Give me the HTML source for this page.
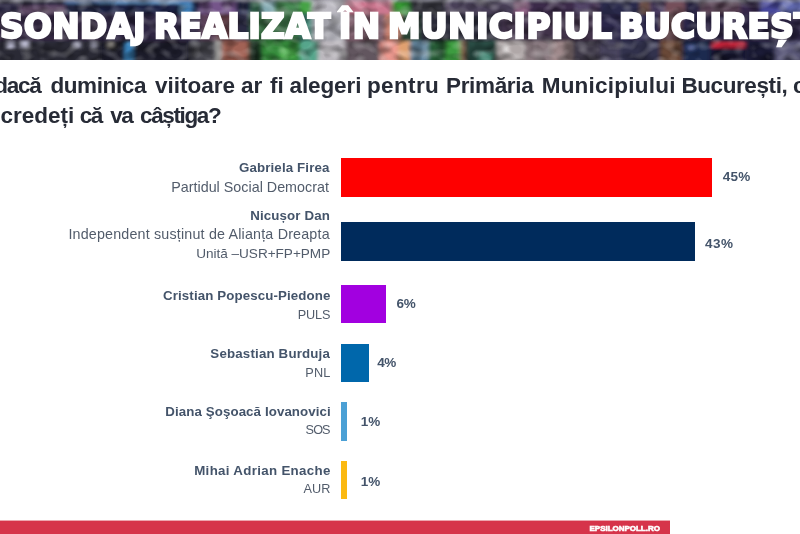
<!DOCTYPE html>
<html lang="ro">
<head>
<meta charset="utf-8">
<title>Sondaj realizat în Municipiul București</title>
<style>
html,body{margin:0;padding:0;}
body{width:800px;height:534px;overflow:hidden;background:#fff;position:relative;font-family:"Liberation Sans",sans-serif;}
#hdr{position:absolute;left:0;top:0;width:800px;height:60px;overflow:hidden;background:#2b2840;}
#hdr svg{position:absolute;left:0;top:0;}
.t{position:absolute;white-space:nowrap;margin:0;padding:0;}
.h{color:#fff;font-weight:bold;-webkit-text-stroke:2.6px #fff;}
.q{color:#272b36;font-weight:bold;}
.n{color:#44546a;font-weight:bold;}
.p{color:#525c6b;}
.v{color:#44546a;font-weight:bold;}
.f{color:#fff;font-weight:bold;-webkit-text-stroke:0.6px #fff;}
.bar{position:absolute;}
.grp{position:absolute;left:0;top:0;width:0;height:0;margin:0;padding:0;}
#foot{position:absolute;left:0;top:520px;width:670px;height:14px;background:linear-gradient(#eda6af 0,#eda6af 1px,#d6344a 1px);}
</style>
</head>
<body>
<div id="hdr">
<svg width="800" height="60" viewBox="0 0 800 60">
<defs><filter id="bl" x="-5%" y="-30%" width="110%" height="160%"><feGaussianBlur stdDeviation="2.2 1.6"/></filter></defs>
<rect x="-10" y="-10" width="820" height="80" fill="#2b2840"/>
<g filter="url(#bl)">
<rect x="-10" y="-10" width="30" height="24" fill="#2a2840"/>
<rect x="20" y="-10" width="45" height="24" fill="#5e4866"/>
<rect x="65" y="-10" width="35" height="24" fill="#232640"/>
<rect x="100" y="-10" width="80" height="24" fill="#1e2044"/>
<rect x="180" y="-10" width="12" height="24" fill="#3d7db5"/>
<rect x="192" y="-10" width="8" height="24" fill="#1e2044"/>
<rect x="200" y="-10" width="36" height="24" fill="#74548a"/>
<rect x="236" y="-10" width="14" height="24" fill="#272a48"/>
<rect x="250" y="-10" width="12" height="24" fill="#2f5a44"/>
<rect x="262" y="-10" width="13" height="24" fill="#84aab2"/>
<rect x="275" y="-10" width="25" height="24" fill="#4a8a54"/>
<rect x="300" y="-10" width="12" height="24" fill="#3fa040"/>
<rect x="312" y="-10" width="33" height="24" fill="#bcbac2"/>
<rect x="345" y="-10" width="47" height="24" fill="#cc7890"/>
<rect x="392" y="-10" width="8" height="24" fill="#3c9a34"/>
<rect x="400" y="-10" width="10" height="24" fill="#36a036"/>
<rect x="410" y="-10" width="35" height="24" fill="#34343c"/>
<rect x="445" y="-10" width="70" height="24" fill="#4a4158"/>
<rect x="515" y="-10" width="13" height="24" fill="#94688a"/>
<rect x="528" y="-10" width="47" height="24" fill="#3b2c49"/>
<rect x="575" y="-10" width="15" height="24" fill="#55466a"/>
<rect x="590" y="-10" width="10" height="24" fill="#3b2c49"/>
<rect x="600" y="-10" width="40" height="24" fill="#2b2a4c"/>
<rect x="640" y="-10" width="10" height="24" fill="#765850"/>
<rect x="650" y="-10" width="15" height="24" fill="#4a3a60"/>
<rect x="665" y="-10" width="20" height="24" fill="#74505a"/>
<rect x="685" y="-10" width="15" height="24" fill="#2a2844"/>
<rect x="700" y="-10" width="40" height="24" fill="#584052"/>
<rect x="740" y="-10" width="20" height="24" fill="#35284a"/>
<rect x="760" y="-10" width="20" height="24" fill="#46469a"/>
<rect x="780" y="-10" width="30" height="24" fill="#6068ac"/>
<rect x="-10" y="14" width="110" height="27" fill="#33263f"/>
<rect x="100" y="14" width="100" height="27" fill="#2d2642"/>
<rect x="200" y="14" width="15" height="27" fill="#5a4058"/>
<rect x="215" y="14" width="21" height="27" fill="#5a3840"/>
<rect x="236" y="14" width="14" height="27" fill="#2c2a42"/>
<rect x="250" y="14" width="50" height="27" fill="#386a42"/>
<rect x="300" y="14" width="12" height="27" fill="#4a9080"/>
<rect x="312" y="14" width="33" height="27" fill="#a2a2aa"/>
<rect x="345" y="14" width="40" height="27" fill="#7a5a68"/>
<rect x="385" y="14" width="15" height="27" fill="#c8806e"/>
<rect x="400" y="14" width="20" height="27" fill="#2f4a38"/>
<rect x="420" y="14" width="80" height="27" fill="#2a2a38"/>
<rect x="500" y="14" width="100" height="27" fill="#40304a"/>
<rect x="600" y="14" width="60" height="27" fill="#2a2848"/>
<rect x="660" y="14" width="22" height="27" fill="#5a4044"/>
<rect x="682" y="14" width="18" height="27" fill="#2a2848"/>
<rect x="700" y="14" width="110" height="27" fill="#2a2240"/>
<rect x="-10" y="41" width="110" height="30" fill="#2b2a34"/>
<rect x="100" y="41" width="90" height="30" fill="#1f1f2b"/>
<rect x="190" y="41" width="25" height="30" fill="#45454e"/>
<rect x="215" y="41" width="7" height="30" fill="#8e8e8c"/>
<rect x="222" y="41" width="26" height="30" fill="#a26254"/>
<rect x="248" y="41" width="14" height="30" fill="#1e3020"/>
<rect x="262" y="41" width="38" height="30" fill="#348a3a"/>
<rect x="300" y="41" width="18" height="30" fill="#56a68c"/>
<rect x="318" y="41" width="27" height="30" fill="#bcb8be"/>
<rect x="345" y="41" width="35" height="30" fill="#62565e"/>
<rect x="380" y="41" width="18" height="30" fill="#ee9a90"/>
<rect x="398" y="41" width="12" height="30" fill="#e0a070"/>
<rect x="410" y="41" width="18" height="30" fill="#6688a0"/>
<rect x="428" y="41" width="17" height="30" fill="#285a34"/>
<rect x="445" y="41" width="15" height="30" fill="#3c9c40"/>
<rect x="460" y="41" width="6" height="30" fill="#6a4a30"/>
<rect x="466" y="41" width="31" height="30" fill="#2c4e44"/>
<rect x="497" y="41" width="28" height="30" fill="#b0a8a8"/>
<rect x="525" y="41" width="27" height="30" fill="#8a7a80"/>
<rect x="552" y="41" width="20" height="30" fill="#a08a8c"/>
<rect x="572" y="41" width="28" height="30" fill="#3e3846"/>
<rect x="600" y="41" width="20" height="30" fill="#48445e"/>
<rect x="620" y="41" width="40" height="30" fill="#30304e"/>
<rect x="660" y="41" width="22" height="30" fill="#6a4838"/>
<rect x="682" y="41" width="28" height="30" fill="#1e2a50"/>
<rect x="710" y="41" width="35" height="30" fill="#15152e"/>
<rect x="745" y="41" width="30" height="30" fill="#1a1a38"/>
<rect x="775" y="41" width="35" height="30" fill="#5a5878"/>
<rect x="60" y="-5" width="40" height="9" fill="#4a6a9a"/>
<rect x="100" y="-5" width="80" height="9" fill="#5f8fc0"/>
<rect x="7" y="41" width="7" height="7" fill="#b8b8d0"/>
<rect x="21" y="41" width="7" height="7" fill="#c0c0d8"/>
<rect x="74" y="42" width="6" height="6" fill="#9a9ab0"/>
<rect x="91" y="42" width="5" height="5" fill="#9090a8"/>
<rect x="108" y="42" width="6" height="6" fill="#8a8680"/>
<rect x="125" y="42" width="8" height="20" fill="#3a86c0"/>
<rect x="480" y="52" width="12" height="10" fill="#4a8a78"/>
<rect x="503" y="44" width="5" height="9" fill="#e8e4e4"/>
<rect x="712" y="42" width="33" height="6" fill="#c02038"/>
<rect x="20" y="-5" width="45" height="10" fill="#23223a"/>
<rect x="688" y="44" width="6" height="6" fill="#4a5a90"/>
<rect x="280" y="48" width="15" height="10" fill="#4cae4c"/>
<rect x="-5" y="-1" width="810" height="2" fill="#9a9aa6"/>
</g>
<filter id="nz" x="0" y="0" width="100%" height="100%"><feTurbulence type="fractalNoise" baseFrequency="0.08 0.11" numOctaves="1" seed="7" result="t"/><feColorMatrix type="matrix" values="0 0 0 0 0  0 0 0 0 0  0 0 0 0 0  2.2 0 0 0 -0.95"/></filter>
<rect x="0" y="0" width="800" height="60" fill="#000" filter="url(#nz)" opacity="0.55"/>
<filter id="nz2" x="0" y="0" width="100%" height="100%"><feTurbulence type="fractalNoise" baseFrequency="0.09 0.12" numOctaves="1" seed="23" result="t"/><feColorMatrix type="matrix" values="0 0 0 0 1  0 0 0 0 1  0 0 0 0 1  0 2.2 0 0 -1.0"/></filter>
<rect x="0" y="0" width="800" height="60" fill="#fff" filter="url(#nz2)" opacity="0.35"/>
</svg>
<h1 class="grp"><span class="t h" id="h1" style="left:0.46px;top:6.27px;font-size:34px;line-height:41px;letter-spacing:0.468px;transform:scaleX(0.96);transform-origin:0 0;font-family:'DejaVu Sans',sans-serif;-webkit-text-stroke-width:2.6px;">SONDAJ</span> <span class="t h" id="h2" style="left:154.44px;top:6.27px;font-size:34px;line-height:41px;letter-spacing:0.290px;transform:scaleX(0.96);transform-origin:0 0;font-family:'DejaVu Sans',sans-serif;-webkit-text-stroke-width:2.6px;">REALIZAT</span> <span class="t h" id="h3" style="left:339.32px;top:6.27px;font-size:34px;line-height:41px;letter-spacing:1.762px;transform:scaleX(0.96);transform-origin:0 0;font-family:'DejaVu Sans',sans-serif;-webkit-text-stroke-width:2.6px;">ÎN</span> <span class="t h" id="h4" style="left:388.44px;top:6.27px;font-size:34px;line-height:41px;letter-spacing:0.669px;transform:scaleX(0.96);transform-origin:0 0;font-family:'DejaVu Sans',sans-serif;-webkit-text-stroke-width:2.6px;">MUNICIPIUL</span> <span class="t h" id="h5" style="left:619.34px;top:6.27px;font-size:34px;line-height:41px;letter-spacing:0.324px;transform:scaleX(0.96);transform-origin:0 0;font-family:'DejaVu Sans',sans-serif;-webkit-text-stroke-width:2.6px;">BUCUREȘTI</span></h1>

</div>
<p class="grp"><span class="t q" id="q1a" style="left:-5.78px;top:71.70px;font-size:22.5px;line-height:27px;letter-spacing:-1.272px;">dacă</span> <span class="t q" id="q1b" style="left:50.40px;top:71.70px;font-size:22.5px;line-height:27px;letter-spacing:-0.386px;">duminica</span> <span class="t q" id="q1c" style="left:155.00px;top:71.70px;font-size:22.5px;line-height:27px;letter-spacing:0.000px;">viitoare</span> <span class="t q" id="q1d" style="left:241.05px;top:71.70px;font-size:22.5px;line-height:27px;letter-spacing:0.000px;">ar</span> <span class="t q" id="q1e" style="left:270.00px;top:71.70px;font-size:22.5px;line-height:27px;letter-spacing:0.000px;">fi</span> <span class="t q" id="q1f" style="left:289.52px;top:71.70px;font-size:22.5px;line-height:27px;letter-spacing:-0.108px;">alegeri</span> <span class="t q" id="q1g" style="left:367.00px;top:71.70px;font-size:22.5px;line-height:27px;letter-spacing:0.361px;">pentru</span> <span class="t q" id="q1h" style="left:446.00px;top:71.70px;font-size:22.5px;line-height:27px;letter-spacing:-0.342px;">Primăria</span> <span class="t q" id="q1i" style="left:541.66px;top:71.70px;font-size:22.5px;line-height:27px;letter-spacing:0.227px;">Municipiului</span> <span class="t q" id="q1j" style="left:681.46px;top:71.70px;font-size:22.5px;line-height:27px;letter-spacing:-0.417px;">București,</span> <span class="t q" id="q1k" style="left:793.00px;top:71.70px;font-size:22.5px;line-height:27px;letter-spacing:-0.194px;">cine</span>
<span class="t q" id="q2a" style="left:0.50px;top:101.70px;font-size:22.5px;line-height:27px;letter-spacing:0.000px;">credeți</span> <span class="t q" id="q2b" style="left:79.73px;top:101.70px;font-size:22.5px;line-height:27px;letter-spacing:-1.500px;">că</span> <span class="t q" id="q2c" style="left:110.13px;top:101.70px;font-size:22.5px;line-height:27px;letter-spacing:-1.500px;">va</span> <span class="t q" id="q2d" style="left:140.11px;top:101.70px;font-size:22.5px;line-height:27px;letter-spacing:-1.385px;">câștiga?</span></p>
<div class="grp"><span class="t n" id="n1" style="left:238.96px;top:160.39px;font-size:13.3px;line-height:16px;letter-spacing:0.133px;">Gabriela Firea</span><span class="t p" id="p1" style="left:171.22px;top:178.75px;font-size:14.3px;line-height:17px;letter-spacing:0.015px;">Partidul Social Democrat</span><div class="bar" style="left:341px;top:158px;width:371px;height:38.5px;background:#fe0000"></div><span class="t v" id="v1" style="left:722.68px;top:169.02px;font-size:13.5px;line-height:16px;letter-spacing:0.290px;">45%</span></div>
<div class="grp"><span class="t n" id="n2" style="left:250.30px;top:208.39px;font-size:13.3px;line-height:16px;letter-spacing:0.116px;">Nicușor Dan</span><span class="t p" id="p2a" style="left:68.40px;top:225.75px;font-size:14.3px;line-height:17px;letter-spacing:0.180px;">Independent susținut de Alianța Dreapta</span><span class="t p" id="p2b" style="left:196.18px;top:246.29px;font-size:13.6px;line-height:16px;letter-spacing:-0.026px;">Unită –USR+FP+PMP</span><div class="bar" style="left:341px;top:221.5px;width:353.7px;height:39px;background:#002b5c"></div><span class="t v" id="v2" style="left:705.00px;top:236.32px;font-size:13.5px;line-height:16px;letter-spacing:0.437px;">43%</span></div>
<div class="grp"><span class="t n" id="n3" style="left:163.07px;top:288.39px;font-size:13.3px;line-height:16px;letter-spacing:0.108px;">Cristian Popescu-Piedone</span><span class="t p" id="p3" style="left:297.72px;top:308.10px;font-size:12.7px;line-height:15px;letter-spacing:-0.131px;">PULS</span><div class="bar" style="left:341px;top:285px;width:44.5px;height:37.6px;background:#a200e0"></div><span class="t v" id="v3" style="left:396.52px;top:296.32px;font-size:13.5px;line-height:16px;letter-spacing:-0.351px;">6%</span></div>
<div class="grp"><span class="t n" id="n4" style="left:210.37px;top:346.39px;font-size:13.3px;line-height:16px;letter-spacing:0.174px;">Sebastian Burduja</span><span class="t p" id="p4" style="left:305.33px;top:366.10px;font-size:12.7px;line-height:15px;letter-spacing:0.140px;">PNL</span><div class="bar" style="left:341px;top:344.2px;width:28.1px;height:37.5px;background:#0067ab"></div><span class="t v" id="v4" style="left:377.15px;top:355.32px;font-size:13.5px;line-height:16px;letter-spacing:-0.463px;">4%</span></div>
<div class="grp"><span class="t n" id="n5" style="left:165.29px;top:404.14px;font-size:13.3px;line-height:16px;letter-spacing:0.094px;">Diana Şoşoacă Iovanovici</span><span class="t p" id="p5" style="left:305.58px;top:423.10px;font-size:12.7px;line-height:15px;letter-spacing:-0.905px;">SOS</span><div class="bar" style="left:341px;top:401.7px;width:6.3px;height:39.3px;background:#4ba0d5"></div><span class="t v" id="v5" style="left:360.64px;top:414.12px;font-size:13.5px;line-height:16px;letter-spacing:-0.008px;">1%</span></div>
<div class="grp"><span class="t n" id="n6" style="left:194.22px;top:463.39px;font-size:13.3px;line-height:16px;letter-spacing:0.321px;">Mihai Adrian Enache</span><span class="t p" id="p6" style="left:303.52px;top:482.10px;font-size:12.7px;line-height:15px;letter-spacing:0.077px;">AUR</span><div class="bar" style="left:341px;top:461.3px;width:6.3px;height:38.2px;background:#fbb911"></div><span class="t v" id="v6" style="left:360.64px;top:473.92px;font-size:13.5px;line-height:16px;letter-spacing:-0.008px;">1%</span></div>
<div id="foot"></div>
<div class="t f" id="f1" style="left:589.56px;top:524.48px;font-size:8px;line-height:10px;letter-spacing:-0.024px;">EPSILONPOLL.RO</div>
</body>
</html>
